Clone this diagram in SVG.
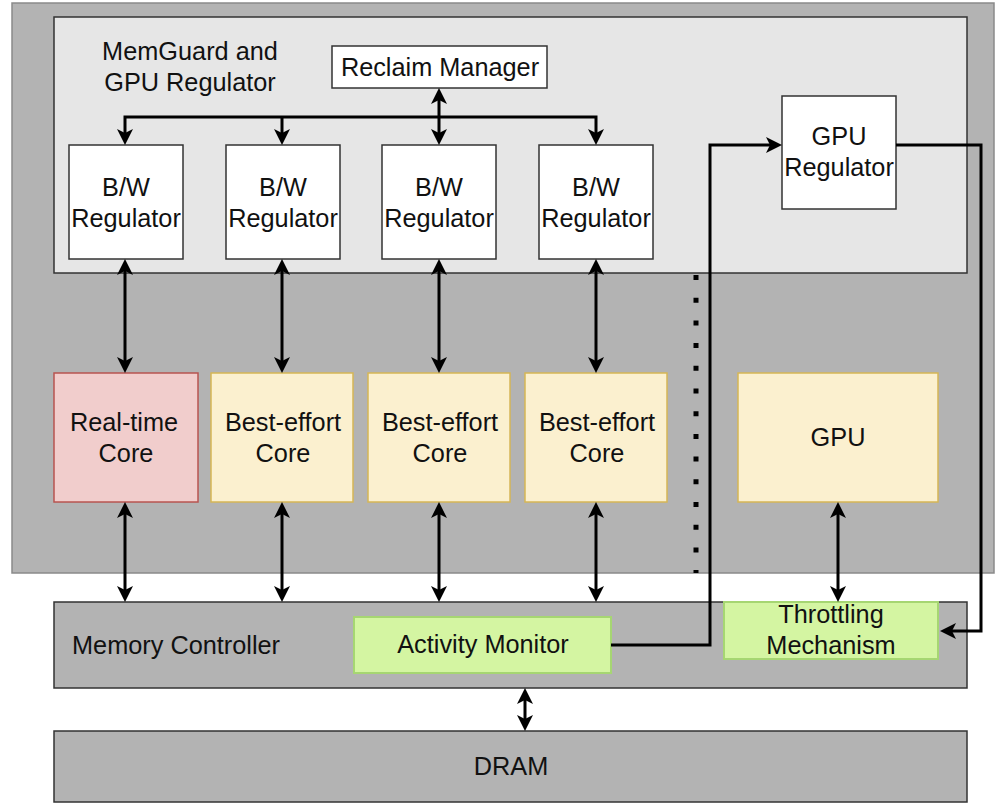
<svg xmlns="http://www.w3.org/2000/svg" width="995" height="803" viewBox="0 0 995 803">
  <style>
    text { font-family: "Liberation Sans", Arial, sans-serif; font-size: 25.3px; fill: #111; }
    .c { text-anchor: middle; }
    .frame { fill: #b3b3b3; stroke: #8a8a8a; stroke-width: 1.5; }
    .panel { fill: #e6e6e6; stroke: #333; stroke-width: 1.5; }
    .reg { fill: #fff; stroke: #333; stroke-width: 1.5; }
    .rt { fill: #f1cdcc; stroke: #b85450; stroke-width: 1.5; }
    .be { fill: #fbf0cf; stroke: #d6b656; stroke-width: 1.5; }
    .mc { fill: #b3b3b3; stroke: #333; stroke-width: 1.5; }
    .hw { fill: #d4f5a2; stroke: #a6d672; stroke-width: 2; }
    .wire { fill: none; stroke: #000; stroke-width: 3; }
    .both { marker-start: url(#head); marker-end: url(#head); }
    .one { marker-end: url(#head); }
    .dots { fill: none; stroke: #000; stroke-width: 5; stroke-dasharray: 5 17.7; }
  </style>
  <defs>
    <marker id="head" markerUnits="userSpaceOnUse" markerWidth="16" markerHeight="16" viewBox="0 0 16 16" refX="6" refY="8" orient="auto-start-reverse">
      <path d="M0,0 L16,8 L0,16 L4,8 Z" fill="#000"/>
    </marker>
  </defs>

  <rect x="0" y="0" width="995" height="803" fill="#fff"/>

  <!-- SoC frame -->
  <g id="soc">
    <rect class="frame" x="12" y="3" width="982" height="570"/>
  </g>

  <!-- MemGuard and GPU regulator panel -->
  <g id="memguard">
    <rect class="panel" x="54" y="17" width="913" height="256"/>
    <text class="c" x="190" y="60">MemGuard and</text>
    <text class="c" x="190" y="91">GPU Regulator</text>
  </g>

  <g id="reclaim-manager">
    <rect class="reg" x="332" y="46" width="215" height="42"/>
    <text class="c" x="440" y="76">Reclaim Manager</text>
  </g>

  <g id="bw-reg-1">
    <rect class="reg" x="69" y="145" width="114" height="114"/>
    <text class="c" x="126" y="196">B/W</text>
    <text class="c" x="126" y="227">Regulator</text>
  </g>
  <g id="bw-reg-2">
    <rect class="reg" x="226" y="145" width="114" height="114"/>
    <text class="c" x="283" y="196">B/W</text>
    <text class="c" x="283" y="227">Regulator</text>
  </g>
  <g id="bw-reg-3">
    <rect class="reg" x="382" y="145" width="114" height="114"/>
    <text class="c" x="439" y="196">B/W</text>
    <text class="c" x="439" y="227">Regulator</text>
  </g>
  <g id="bw-reg-4">
    <rect class="reg" x="539" y="145" width="114" height="114"/>
    <text class="c" x="596" y="196">B/W</text>
    <text class="c" x="596" y="227">Regulator</text>
  </g>

  <g id="gpu-regulator">
    <rect class="reg" x="782" y="96" width="114" height="113"/>
    <text class="c" x="839" y="145">GPU</text>
    <text class="c" x="839" y="176">Regulator</text>
  </g>

  <!-- Cores and GPU -->
  <g id="rt-core">
    <rect class="rt" x="54" y="373" width="144" height="129"/>
    <text class="c" x="124" y="431">Real-time</text>
    <text class="c" x="126" y="462">Core</text>
  </g>
  <g id="be-core-1">
    <rect class="be" x="211" y="373" width="142" height="129"/>
    <text class="c" x="283" y="431">Best-effort</text>
    <text class="c" x="283" y="462">Core</text>
  </g>
  <g id="be-core-2">
    <rect class="be" x="368" y="373" width="142" height="129"/>
    <text class="c" x="440" y="431">Best-effort</text>
    <text class="c" x="440" y="462">Core</text>
  </g>
  <g id="be-core-3">
    <rect class="be" x="525" y="373" width="142" height="129"/>
    <text class="c" x="597" y="431">Best-effort</text>
    <text class="c" x="597" y="462">Core</text>
  </g>
  <g id="gpu">
    <rect class="be" x="738" y="373" width="200" height="129"/>
    <text class="c" x="838" y="446">GPU</text>
  </g>

  <!-- Memory controller and DRAM -->
  <g id="memory-controller">
    <rect class="mc" x="54" y="602" width="913" height="86"/>
    <text x="72" y="654">Memory Controller</text>
  </g>
  <g id="activity-monitor">
    <rect class="hw" x="354" y="617" width="257" height="56"/>
    <text class="c" x="483" y="653">Activity Monitor</text>
  </g>
  <g id="throttling">
    <rect class="hw" x="724" y="602" width="214" height="57"/>
    <text class="c" x="831" y="623">Throttling</text>
    <text class="c" x="831" y="654">Mechanism</text>
  </g>
  <g id="dram">
    <rect class="mc" x="54" y="731" width="913" height="71"/>
    <text class="c" x="511" y="775">DRAM</text>
  </g>

  <!-- Connectors -->
  <g id="connectors">
    <path class="dots" d="M696,275 V573"/>
    <path class="wire both" d="M125,135 V117 H596 V135"/>
    <path class="wire one" d="M282,117 V135"/>
    <path class="wire both" d="M439,98 V135"/>

    <path class="wire both" d="M125,269 V363"/>
    <path class="wire both" d="M282,269 V363"/>
    <path class="wire both" d="M439,269 V363"/>
    <path class="wire both" d="M596,269 V363"/>

    <path class="wire both" d="M125,512 V592"/>
    <path class="wire both" d="M282,512 V592"/>
    <path class="wire both" d="M439,512 V592"/>
    <path class="wire both" d="M596,512 V592"/>
    <path class="wire both" d="M838,512 V592"/>

    <path class="wire both" d="M525,698 V721"/>

    <path class="wire one" d="M611,645 H710 V145 H772"/>
    <path class="wire one" d="M896,145 H981 V631 H950"/>
  </g>
</svg>
